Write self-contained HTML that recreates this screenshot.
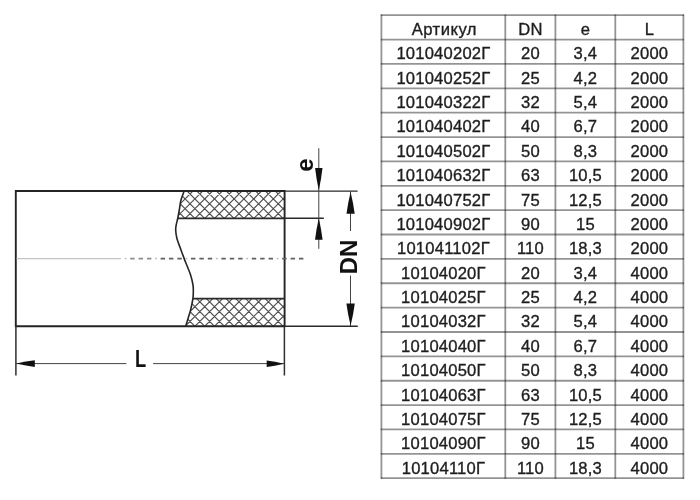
<!DOCTYPE html>
<html><head><meta charset="utf-8">
<style>
html,body{margin:0;padding:0;background:#fff;}
body{width:700px;height:500px;position:relative;overflow:hidden;-webkit-font-smoothing:antialiased;font-family:"Liberation Sans",sans-serif;}
.h{position:absolute;left:380.50px;width:303.80px;height:1.8px;background:rgba(0,0,0,0.42);}
.v{position:absolute;top:14.30px;height:464.80px;width:1.8px;background:rgba(0,0,0,0.42);}
.t{position:absolute;height:24px;line-height:24px;text-align:center;font-size:16.6px;color:#1e1e1e;white-space:nowrap;-webkit-text-stroke:0.35px #1e1e1e;letter-spacing:0.2px;padding-left:0.2px;box-sizing:border-box;}
.draw{position:absolute;left:0;top:0;}
.lbl{position:absolute;font-weight:bold;color:#111;line-height:1;white-space:nowrap;}
</style></head><body>
<div id="wrap" style="position:absolute;left:0;top:0;width:700px;height:500px;will-change:transform;">

<svg class="draw" width="700" height="500" viewBox="0 0 700 500">
<defs>
<clipPath id="c1"><rect x="150" y="191" width="134.6" height="27.3"/></clipPath>
<clipPath id="cr"><path d="M184.3,190.6 C183.75,192.17 181.83,196.77 181.0,200 C180.17,203.23 179.83,207.00 179.3,210 C178.77,213.00 178.32,215.50 177.8,218 C177.28,220.50 176.55,223.00 176.2,225 C175.85,227.00 175.60,227.83 175.7,230 C175.80,232.17 175.92,234.67 176.8,238 C177.68,241.33 179.77,246.57 181,250 C182.23,253.43 183.25,256.10 184.2,258.6 C185.15,261.10 185.63,262.27 186.7,265 C187.77,267.73 189.55,271.67 190.6,275 C191.65,278.33 192.55,282.17 193.0,285 C193.45,287.83 193.32,289.73 193.3,292 C193.28,294.27 193.35,295.60 192.9,298.6 C192.45,301.60 191.38,306.77 190.6,310 C189.82,313.23 189.03,315.23 188.2,318 C187.37,320.77 186.03,325.17 185.6,326.6 L300,326.6 L300,190.6 Z"/></clipPath>
<clipPath id="c2"><rect x="150" y="298.6" width="134.6" height="27.6"/></clipPath>
</defs>
<g fill="none" stroke="#333" stroke-width="1.6">
<!-- hatch bands -->
<g clip-path="url(#cr)"><g clip-path="url(#c1)" stroke="#505050" stroke-width="1.15"><path fill="none" d="M145.80,189L177.10,220.3 M155.60,189L186.90,220.3 M165.40,189L196.70,220.3 M175.40,189L144.10,220.3 M175.20,189L206.50,220.3 M185.20,189L153.90,220.3 M185.00,189L216.30,220.3 M195.00,189L163.70,220.3 M194.80,189L226.10,220.3 M204.80,189L173.50,220.3 M204.60,189L235.90,220.3 M214.60,189L183.30,220.3 M214.40,189L245.70,220.3 M224.40,189L193.10,220.3 M224.20,189L255.50,220.3 M234.20,189L202.90,220.3 M234.00,189L265.30,220.3 M244.00,189L212.70,220.3 M243.80,189L275.10,220.3 M253.80,189L222.50,220.3 M253.60,189L284.90,220.3 M263.60,189L232.30,220.3 M263.40,189L294.70,220.3 M273.40,189L242.10,220.3 M273.20,189L304.50,220.3 M283.20,189L251.90,220.3 M283.00,189L314.30,220.3 M293.00,189L261.70,220.3 M302.80,189L271.50,220.3 M312.60,189L281.30,220.3"/></g></g>
<g clip-path="url(#cr)"><g clip-path="url(#c2)" stroke="#505050" stroke-width="1.15"><path fill="none" d="M145.60,296.6L177.20,328.2 M155.40,296.6L187.00,328.2 M165.20,296.6L196.80,328.2 M175.00,296.6L206.60,328.2 M184.80,296.6L216.40,328.2 M194.60,296.6L226.20,328.2 M204.40,296.6L236.00,328.2 M214.20,296.6L245.80,328.2 M224.00,296.6L255.60,328.2 M233.80,296.6L265.40,328.2 M243.60,296.6L275.20,328.2 M253.40,296.6L285.00,328.2 M263.20,296.6L294.80,328.2 M273.00,296.6L304.60,328.2 M282.80,296.6L314.40,328.2 M175.60,296.6L144.00,328.2 M185.40,296.6L153.80,328.2 M195.20,296.6L163.60,328.2 M205.00,296.6L173.40,328.2 M214.80,296.6L183.20,328.2 M224.60,296.6L193.00,328.2 M234.40,296.6L202.80,328.2 M244.20,296.6L212.60,328.2 M254.00,296.6L222.40,328.2 M263.80,296.6L232.20,328.2 M273.60,296.6L242.00,328.2 M283.40,296.6L251.80,328.2 M293.20,296.6L261.60,328.2 M303.00,296.6L271.40,328.2 M312.80,296.6L281.20,328.2"/></g></g>
<!-- pipe outline -->
<path d="M15.8,191 H284.6 V326.2 H15.8 Z" stroke="#242424" stroke-width="1.9"/>
<path d="M284.6,191.1 H357.6 M284.6,218.2 H323.8 M284.6,326.2 H357.8" stroke="#2a2a2a" stroke-width="1.4"/>
<path d="M15.9,326.2 V375.5 M284.4,326.2 V375.5" stroke="#303030" stroke-width="1.5"/>
<path d="M177.8,218.3 H284.6 M192.9,298.6 H284.6" stroke="#2a2a2a" stroke-width="1.7"/>
<!-- break curve -->
<path d="M184.3,190.6 C183.75,192.17 181.83,196.77 181.0,200 C180.17,203.23 179.83,207.00 179.3,210 C178.77,213.00 178.32,215.50 177.8,218 C177.28,220.50 176.55,223.00 176.2,225 C175.85,227.00 175.60,227.83 175.7,230 C175.80,232.17 175.92,234.67 176.8,238 C177.68,241.33 179.77,246.57 181,250 C182.23,253.43 183.25,256.10 184.2,258.6 C185.15,261.10 185.63,262.27 186.7,265 C187.77,267.73 189.55,271.67 190.6,275 C191.65,278.33 192.55,282.17 193.0,285 C193.45,287.83 193.32,289.73 193.3,292 C193.28,294.27 193.35,295.60 192.9,298.6 C192.45,301.60 191.38,306.77 190.6,310 C189.82,313.23 189.03,315.23 188.2,318 C187.37,320.77 186.03,325.17 185.6,326.6" stroke="#262626" stroke-width="1.6"/>
</g>
<g stroke="rgba(0,0,0,0.42)" stroke-width="1.8" fill="none"><path d="M380.79999999999995,15.20H684.0"/><path d="M380.79999999999995,39.57H684.0"/><path d="M380.79999999999995,63.94H684.0"/><path d="M380.79999999999995,88.31H684.0"/><path d="M380.79999999999995,112.67H684.0"/><path d="M380.79999999999995,137.04H684.0"/><path d="M380.79999999999995,161.41H684.0"/><path d="M380.79999999999995,185.78H684.0"/><path d="M380.79999999999995,210.15H684.0"/><path d="M380.79999999999995,234.52H684.0"/><path d="M380.79999999999995,258.88H684.0"/><path d="M380.79999999999995,283.25H684.0"/><path d="M380.79999999999995,307.62H684.0"/><path d="M380.79999999999995,331.99H684.0"/><path d="M380.79999999999995,356.36H684.0"/><path d="M380.79999999999995,380.73H684.0"/><path d="M380.79999999999995,405.09H684.0"/><path d="M380.79999999999995,429.46H684.0"/><path d="M380.79999999999995,453.83H684.0"/><path d="M380.79999999999995,478.20H684.0"/><path d="M381.4,14.6V478.8"/><path d="M505.3,14.6V478.8"/><path d="M555.4,14.6V478.8"/><path d="M615.3,14.6V478.8"/><path d="M683.4,14.6V478.8"/></g>
<!-- centre line -->
<path d="M16.5,258.6H121" stroke="#c4c4c4" stroke-width="1.2"/><path d="M124.7,258.6h1.8" stroke="#bbb" stroke-width="1.5"/><path d="M130.2,258.6h4.4 M138.6,258.6h4.4 M147.0,258.6h4.4" stroke="#8c8c8c" stroke-width="1.6"/><path d="M155.1,258.6h1.8" stroke="#bbb" stroke-width="1.5"/><path d="M160.6,258.6h4.4 M169.0,258.6h4.4 M177.4,258.6h4.4" stroke="#606060" stroke-width="1.6"/><path d="M185.5,258.6h1.8" stroke="#bbb" stroke-width="1.5"/><path d="M191.0,258.6h4.4 M199.4,258.6h4.4 M207.8,258.6h4.4" stroke="#606060" stroke-width="1.6"/><path d="M215.9,258.6h1.8" stroke="#bbb" stroke-width="1.5"/><path d="M221.4,258.6h4.4 M229.8,258.6h4.4 M238.2,258.6h4.4" stroke="#606060" stroke-width="1.6"/><path d="M246.3,258.6h1.8" stroke="#bbb" stroke-width="1.5"/><path d="M251.8,258.6h4.4 M260.2,258.6h4.4 M268.6,258.6h4.4" stroke="#606060" stroke-width="1.6"/><path d="M276.7,258.6h1.8" stroke="#bbb" stroke-width="1.5"/><path d="M282.2,258.6h4.4 M290.6,258.6h4.4 M299.0,258.6h4.4" stroke="#606060" stroke-width="1.6"/>
<g stroke="#444" stroke-width="1">
<!-- L dimension -->
<path d="M16,363.6 H126.4 M153.1,363.6 H284.3"/>
<!-- e dimension -->
<path d="M318.8,148.2 V248.8"/>
<!-- DN dimension -->
<path d="M350.5,191 V231 M350.5,275.5 V326"/>
</g>
<g fill="#111" stroke="none">
<path d="M16.20,363.60 Q26.43,365.91 34.80,366.90 L34.80,360.30 Q26.43,361.29 16.20,363.60 Z"/><path d="M284.10,363.80 Q274.53,361.49 266.70,360.50 L266.70,367.10 Q274.53,366.11 284.10,363.80 Z"/><path d="M318.80,190.50 Q321.39,178.12 322.50,168.00 L315.10,168.00 Q316.21,178.12 318.80,190.50 Z"/><path d="M318.80,218.30 Q316.14,230.07 315.00,239.70 L322.60,239.70 Q321.46,230.07 318.80,218.30 Z"/><path d="M350.60,192.00 Q347.73,203.94 346.50,213.70 L354.70,213.70 Q353.47,203.94 350.60,192.00 Z"/><path d="M350.60,325.70 Q353.54,313.54 354.80,303.60 L346.40,303.60 Q347.66,313.54 350.60,325.70 Z"/>
</g>
</svg>

<div class="lbl" style="left:135px;top:347.5px;font-size:23.5px;transform:scaleX(0.78);transform-origin:0 0;">L</div>
<div class="lbl" style="left:298px;top:153px;font-size:24px;transform:rotate(-90deg);transform-origin:50% 50%;">e</div>
<div class="lbl" style="left:332px;top:244.5px;font-size:24px;transform:rotate(-90deg);transform-origin:50% 50%;">DN</div>
<div class="t" style="left:381.4px;width:123.90000000000003px;top:17.98px;letter-spacing:0.5px;padding-left:2px;box-sizing:border-box;">Артикул</div><div class="t" style="left:505.3px;width:50.099999999999966px;top:17.98px;">DN</div><div class="t" style="left:555.4px;width:59.89999999999998px;top:17.98px;">e</div><div class="t" style="left:615.3px;width:68.10000000000002px;top:17.98px;">L</div><div class="t" style="left:381.4px;width:123.90000000000003px;top:42.35px;">101040202Г</div><div class="t" style="left:505.3px;width:50.099999999999966px;top:42.35px;">20</div><div class="t" style="left:555.4px;width:59.89999999999998px;top:42.35px;">3,4</div><div class="t" style="left:615.3px;width:68.10000000000002px;top:42.35px;">2000</div><div class="t" style="left:381.4px;width:123.90000000000003px;top:66.72px;">101040252Г</div><div class="t" style="left:505.3px;width:50.099999999999966px;top:66.72px;">25</div><div class="t" style="left:555.4px;width:59.89999999999998px;top:66.72px;">4,2</div><div class="t" style="left:615.3px;width:68.10000000000002px;top:66.72px;">2000</div><div class="t" style="left:381.4px;width:123.90000000000003px;top:91.09px;">101040322Г</div><div class="t" style="left:505.3px;width:50.099999999999966px;top:91.09px;">32</div><div class="t" style="left:555.4px;width:59.89999999999998px;top:91.09px;">5,4</div><div class="t" style="left:615.3px;width:68.10000000000002px;top:91.09px;">2000</div><div class="t" style="left:381.4px;width:123.90000000000003px;top:115.46px;">101040402Г</div><div class="t" style="left:505.3px;width:50.099999999999966px;top:115.46px;">40</div><div class="t" style="left:555.4px;width:59.89999999999998px;top:115.46px;">6,7</div><div class="t" style="left:615.3px;width:68.10000000000002px;top:115.46px;">2000</div><div class="t" style="left:381.4px;width:123.90000000000003px;top:139.83px;">101040502Г</div><div class="t" style="left:505.3px;width:50.099999999999966px;top:139.83px;">50</div><div class="t" style="left:555.4px;width:59.89999999999998px;top:139.83px;">8,3</div><div class="t" style="left:615.3px;width:68.10000000000002px;top:139.83px;">2000</div><div class="t" style="left:381.4px;width:123.90000000000003px;top:164.19px;">101040632Г</div><div class="t" style="left:505.3px;width:50.099999999999966px;top:164.19px;">63</div><div class="t" style="left:555.4px;width:59.89999999999998px;top:164.19px;">10,5</div><div class="t" style="left:615.3px;width:68.10000000000002px;top:164.19px;">2000</div><div class="t" style="left:381.4px;width:123.90000000000003px;top:188.56px;">101040752Г</div><div class="t" style="left:505.3px;width:50.099999999999966px;top:188.56px;">75</div><div class="t" style="left:555.4px;width:59.89999999999998px;top:188.56px;">12,5</div><div class="t" style="left:615.3px;width:68.10000000000002px;top:188.56px;">2000</div><div class="t" style="left:381.4px;width:123.90000000000003px;top:212.93px;">101040902Г</div><div class="t" style="left:505.3px;width:50.099999999999966px;top:212.93px;">90</div><div class="t" style="left:555.4px;width:59.89999999999998px;top:212.93px;">15</div><div class="t" style="left:615.3px;width:68.10000000000002px;top:212.93px;">2000</div><div class="t" style="left:381.4px;width:123.90000000000003px;top:237.30px;">101041102Г</div><div class="t" style="left:505.3px;width:50.099999999999966px;top:237.30px;">110</div><div class="t" style="left:555.4px;width:59.89999999999998px;top:237.30px;">18,3</div><div class="t" style="left:615.3px;width:68.10000000000002px;top:237.30px;">2000</div><div class="t" style="left:381.4px;width:123.90000000000003px;top:261.67px;">10104020Г</div><div class="t" style="left:505.3px;width:50.099999999999966px;top:261.67px;">20</div><div class="t" style="left:555.4px;width:59.89999999999998px;top:261.67px;">3,4</div><div class="t" style="left:615.3px;width:68.10000000000002px;top:261.67px;">4000</div><div class="t" style="left:381.4px;width:123.90000000000003px;top:286.04px;">10104025Г</div><div class="t" style="left:505.3px;width:50.099999999999966px;top:286.04px;">25</div><div class="t" style="left:555.4px;width:59.89999999999998px;top:286.04px;">4,2</div><div class="t" style="left:615.3px;width:68.10000000000002px;top:286.04px;">4000</div><div class="t" style="left:381.4px;width:123.90000000000003px;top:310.41px;">10104032Г</div><div class="t" style="left:505.3px;width:50.099999999999966px;top:310.41px;">32</div><div class="t" style="left:555.4px;width:59.89999999999998px;top:310.41px;">5,4</div><div class="t" style="left:615.3px;width:68.10000000000002px;top:310.41px;">4000</div><div class="t" style="left:381.4px;width:123.90000000000003px;top:334.77px;">10104040Г</div><div class="t" style="left:505.3px;width:50.099999999999966px;top:334.77px;">40</div><div class="t" style="left:555.4px;width:59.89999999999998px;top:334.77px;">6,7</div><div class="t" style="left:615.3px;width:68.10000000000002px;top:334.77px;">4000</div><div class="t" style="left:381.4px;width:123.90000000000003px;top:359.14px;">10104050Г</div><div class="t" style="left:505.3px;width:50.099999999999966px;top:359.14px;">50</div><div class="t" style="left:555.4px;width:59.89999999999998px;top:359.14px;">8,3</div><div class="t" style="left:615.3px;width:68.10000000000002px;top:359.14px;">4000</div><div class="t" style="left:381.4px;width:123.90000000000003px;top:383.51px;">10104063Г</div><div class="t" style="left:505.3px;width:50.099999999999966px;top:383.51px;">63</div><div class="t" style="left:555.4px;width:59.89999999999998px;top:383.51px;">10,5</div><div class="t" style="left:615.3px;width:68.10000000000002px;top:383.51px;">4000</div><div class="t" style="left:381.4px;width:123.90000000000003px;top:407.88px;">10104075Г</div><div class="t" style="left:505.3px;width:50.099999999999966px;top:407.88px;">75</div><div class="t" style="left:555.4px;width:59.89999999999998px;top:407.88px;">12,5</div><div class="t" style="left:615.3px;width:68.10000000000002px;top:407.88px;">4000</div><div class="t" style="left:381.4px;width:123.90000000000003px;top:432.25px;">10104090Г</div><div class="t" style="left:505.3px;width:50.099999999999966px;top:432.25px;">90</div><div class="t" style="left:555.4px;width:59.89999999999998px;top:432.25px;">15</div><div class="t" style="left:615.3px;width:68.10000000000002px;top:432.25px;">4000</div><div class="t" style="left:381.4px;width:123.90000000000003px;top:456.62px;">10104110Г</div><div class="t" style="left:505.3px;width:50.099999999999966px;top:456.62px;">110</div><div class="t" style="left:555.4px;width:59.89999999999998px;top:456.62px;">18,3</div><div class="t" style="left:615.3px;width:68.10000000000002px;top:456.62px;">4000</div></div>
</body></html>
